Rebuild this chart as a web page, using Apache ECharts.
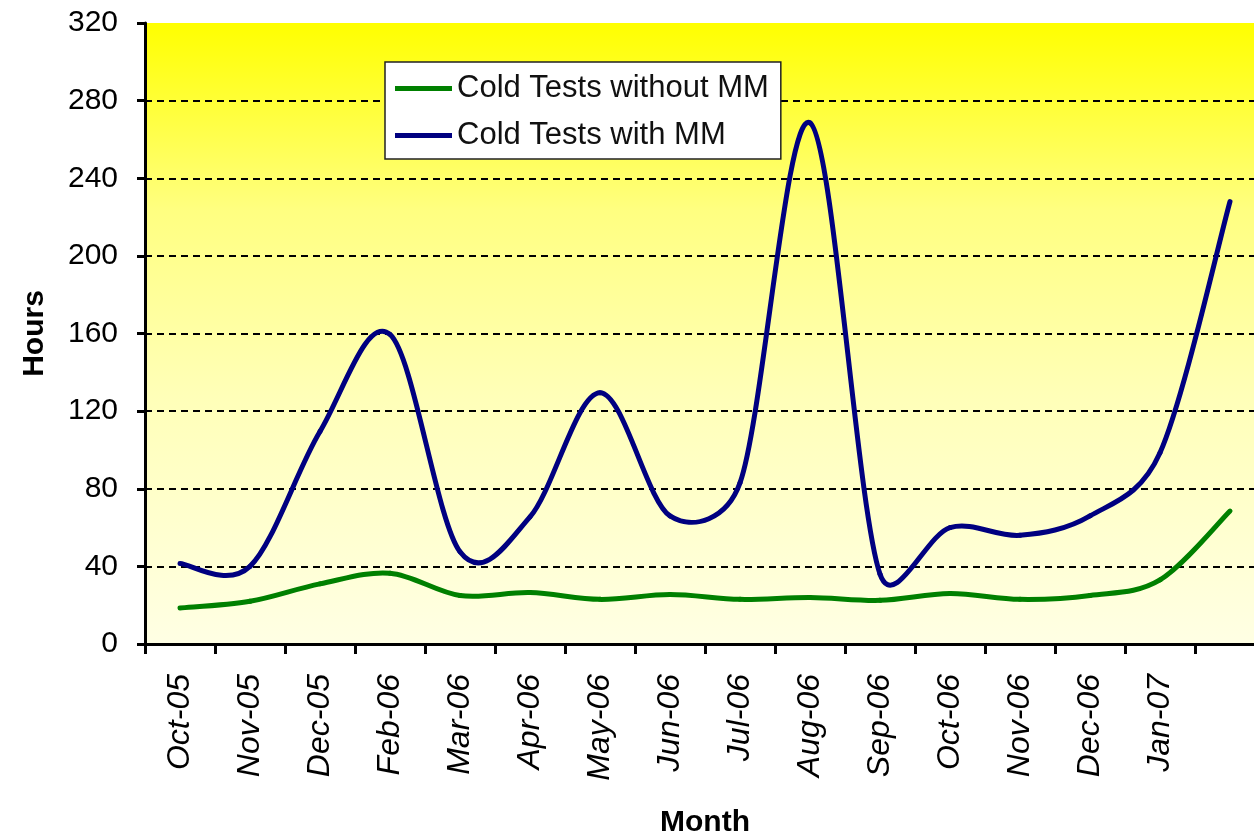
<!DOCTYPE html>
<html>
<head>
<meta charset="utf-8">
<title>Cold Tests - Hours per Month</title>
<script src="https://cdn.jsdelivr.net/npm/echarts@6/dist/echarts.min.js"></script>
<style>
    html, body { margin: 0; padding: 0; background: #fff; }
    #chart { width: 1254px; height: 837px; }
</style>
</head>
<body>
<div id="chart"></div>
<script>
// months on the x axis (the last point has no label in the original)
const months = ['Oct-05', 'Nov-05', 'Dec-05', 'Feb-06', 'Mar-06', 'Apr-06', 'May-06', 'Jun-06',
    'Jul-06', 'Aug-06', 'Sep-06', 'Oct-06', 'Nov-06', 'Dec-06', 'Jan-07', ''];

const withoutMM = [18.5, 22, 31, 36.5, 25, 26.5, 23, 25.5, 23, 24, 22.5, 26, 23, 25, 33, 68.5];
const withMM = [41.5, 40, 109.5, 159.5, 47.5, 65.5, 129.5, 66, 83, 268.5, 36, 60, 56, 66, 98.5, 228];

const hoursMin = 0;
const hoursMax = 320;
const hoursStep = 40;

const FONT = '"Liberation Sans", Arial, sans-serif';

function plotBackground() {
    return new echarts.graphic.LinearGradient(0, 0, 0, 1, [
        { offset: 0, color: '#FFFF00' },
        { offset: 0.3, color: '#FFFF80' },
        { offset: 0.6, color: '#FFFFB8' },
        { offset: 1, color: '#FFFFE4' }
    ]);
}

function dist(a, b) {
    return Math.hypot(b[0] - a[0], b[1] - a[1]);
}

// spreadsheet-style smoothed line: bezier per segment, arms limited to half the segment
function smoothSegment(params, api, color) {
    const i = params.dataIndexInside;
    const n = params.dataInsideLength;
    if (i >= n - 1) return null;

    const pt = k => api.coord([api.value(0, k), api.value(1, k)]);
    const p0 = pt(Math.max(i - 1, 0));
    const p1 = pt(i);
    const p2 = pt(i + 1);
    const p3 = pt(Math.min(i + 2, n - 1));

    const d12 = dist(p1, p2);
    const d02 = dist(p0, p2);
    const d13 = dist(p1, p3);
    let f1 = 1 / 6;
    let f2 = 1 / 6;
    if (d02 / 6 >= d12 / 2 && d02 > 0) f1 = d12 / (2 * d02);
    if (d13 / 6 >= d12 / 2 && d13 > 0) f2 = d12 / (2 * d13);

    return {
        type: 'bezierCurve',
        shape: {
            x1: p1[0], y1: p1[1],
            x2: p2[0], y2: p2[1],
            cpx1: p1[0] + f1 * (p2[0] - p0[0]),
            cpy1: p1[1] + f1 * (p2[1] - p0[1]),
            cpx2: p2[0] - f2 * (p3[0] - p1[0]),
            cpy2: p2[1] - f2 * (p3[1] - p1[1])
        },
        style: { stroke: color, lineWidth: 5, fill: 'none', lineCap: 'round', lineJoin: 'round' }
    };
}

function lineSeries(name, values, color) {
    return {
        name,
        type: 'custom',
        coordinateSystem: 'cartesian2d',
        data: values.map((v, i) => [i, v]),
        encode: { x: 0, y: 1 },
        itemStyle: { color },
        renderItem: (params, api) => smoothSegment(params, api, color)
    };
}

function initChart() {
    const chartDom = document.getElementById('chart');
    const myChart = echarts.init(chartDom, null, { renderer: 'canvas' });

    const option = {
        animation: false,
        backgroundColor: '#ffffff',
        textStyle: { fontFamily: FONT, color: '#000' },
        grid: {
            left: 145,
            top: 23,
            right: -11,
            bottom: 193,
            outerBoundsMode: 'none',
            containLabel: false,
            show: true,
            borderWidth: 0,
            backgroundColor: plotBackground()
        },
        legend: {
            orient: 'vertical',
            left: 385,
            top: 62,
            padding: [11, 12, 8, 10],
            itemGap: 16,
            itemWidth: 57,
            itemHeight: 5,
            icon: 'rect',
            backgroundColor: '#ffffff',
            borderColor: '#222',
            borderWidth: 1.5,
            borderRadius: 0,
            textStyle: { fontFamily: FONT, fontSize: 31, color: '#111' },
            data: ['Cold Tests without MM', 'Cold Tests with MM']
        },
        xAxis: {
            type: 'category',
            data: months,
            boundaryGap: true,
            name: 'Month',
            nameLocation: 'middle',
            nameGap: 164,
            nameTextStyle: { fontFamily: FONT, fontSize: 30, fontWeight: 'bold', color: '#000' },
            axisLine: { lineStyle: { color: '#000', width: 3 } },
            axisTick: { show: true, length: 10, lineStyle: { color: '#000', width: 3 } },
            axisLabel: {
                interval: 0,
                rotate: 90,
                margin: 30,
                fontFamily: FONT,
                fontSize: 32,
                fontStyle: 'italic',
                color: '#000'
            },
            splitLine: { show: false }
        },
        yAxis: {
            type: 'value',
            min: hoursMin,
            max: hoursMax,
            interval: hoursStep,
            name: 'Hours',
            nameLocation: 'middle',
            nameGap: 95,
            nameTextStyle: { fontFamily: FONT, fontSize: 30, fontWeight: 'bold', color: '#000' },
            axisLine: { show: true, lineStyle: { color: '#000', width: 3 } },
            axisTick: { show: true, length: 8, lineStyle: { color: '#000', width: 3 } },
            axisLabel: { margin: 27, fontFamily: FONT, fontSize: 30, color: '#000' },
            splitLine: {
                show: true,
                showMaxLine: false,
                lineStyle: { color: '#000', width: 2, type: [7, 5] }
            }
        },
        series: [
            lineSeries('Cold Tests without MM', withoutMM, '#008000'),
            lineSeries('Cold Tests with MM', withMM, '#000080')
        ]
    };

    myChart.setOption(option);
    window.addEventListener('resize', () => myChart.resize());
}

initChart();
</script>
</body>
</html>
